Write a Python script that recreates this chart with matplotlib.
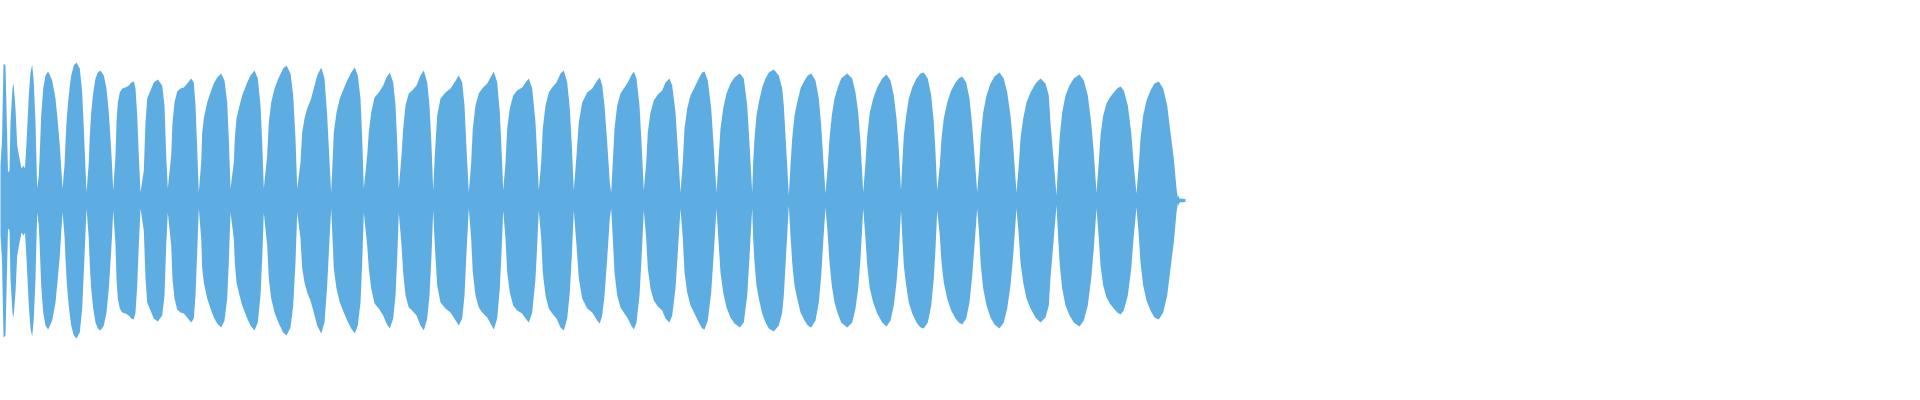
import numpy as np
import matplotlib
matplotlib.use("Agg")
import matplotlib.pyplot as plt

# envelope of the waveform: column position and peak amplitude (symmetric)
pos = [
    0, 1.5, 3, 5, 6.5, 7.5, 9, 10, 12, 13, 15, 16.7, 18.5, 21, 23,
    24.5, 26, 28.3, 30, 31.7, 33.3, 35, 36, 36.7,
    38.3, 39.3, 40.7, 42.7, 45, 47.7, 51.7, 55, 57.3, 59.3, 61, 62,
    64, 65, 66, 67.3, 69, 70.7, 73.3, 76, 79.3, 81.7, 83.3, 85, 86,
    88.3, 89.3, 90.7, 92.7, 95, 97.3, 100, 103.3, 106, 108.3, 110, 111.7, 112.7,
    115, 116, 117.3, 119.3, 121.7, 125, 128.3, 130.7, 133.3, 135, 136.7, 138.3, 140,
    143.3, 145, 146.7, 150, 153.3, 157.3, 161.7, 164, 165.7, 167.3,
    170.7, 172, 174, 176.7, 180, 183.3, 186.7, 190.7, 193.3, 195, 196.7, 198.3,
    200.7, 201.7, 203.3, 206.7, 210, 213.3, 216.7, 220.7, 224, 226.7, 228.3, 230,
    233.3, 234.3, 236, 238.3, 241.7, 246.7, 250, 254, 257.3, 260, 261.7, 263.3,
    266.7, 268.3, 270.7, 274, 278.3, 282.7, 286, 290, 292.7, 295, 296.7,
    300, 301.7, 304, 306.7, 310, 313.3, 316.7, 320.7, 324, 326.7, 328.7, 330.7,
    332.3, 333.3, 336, 339.3, 343.3, 346.7, 350.7, 354.3, 357.3, 360, 361.7, 363.3,
    366.7, 368.3, 370.7, 374, 378.3, 382.7, 386, 389.3, 392.7, 395, 396.7, 398.3,
    401, 402.7, 405, 408.3, 411.7, 416, 420, 423.3, 426.7, 429, 431, 432.7,
    434.3, 436.7, 440, 445, 450, 453.3, 458.3, 461.7, 464, 466, 468.3,
    470.7, 472.3, 475, 478.3, 481.7, 486.7, 490, 493.3, 496.7, 499.3, 501, 502.7,
    505, 506.7, 509.3, 512.7, 516.7, 521.7, 525, 528.3, 531.7, 535, 536.7, 538.3,
    540.7, 542.3, 545, 548.3, 551.7, 556, 560, 563.3, 566.7, 569.3, 571.3, 573.3,
    576, 578.3, 581.7, 586.7, 591.7, 596.7, 599.3, 601.7, 604, 606.7, 609.3, 610.7,
    612.3, 614, 616.7, 620, 623.3, 627.3, 630.7, 633.3, 636, 639, 641, 643.3,
    645.7, 647.3, 650, 653.3, 657.3, 661.7, 665, 669, 671.7, 675, 677.3, 680,
    682.3, 684, 686.7, 690, 694, 698.3, 701.7, 704, 707.3, 710.7, 713.3, 716,
    718.3, 720, 722.7, 726, 730, 734, 739.3, 743.3, 746.7, 748.7, 750, 751.7,
    752.7, 754, 756, 758.3, 761.7, 765, 768.3, 773.3, 778.3, 781.7, 783.3, 785, 786.7, 788.3,
    790, 791.7, 794, 796.7, 800, 804, 807.3, 810.7, 815, 818.3, 820.7, 822.7, 825,
    827.3, 829, 831.3, 834, 837.3, 840.7, 846.7, 851.7, 855, 857.7, 860, 862.7,
    865, 866.7, 869.3, 872.7, 876.7, 881.7, 886, 890, 893.3, 896, 898.3, 900.5,
    901.7, 903.3, 905.7, 908.3, 911.7, 916, 920, 923.3, 927.3, 930.7, 933.3, 935, 936.7,
    939.3, 941, 943.3, 946.7, 950.7, 955, 958.3, 961.7, 965.7, 969, 971.7, 974, 976.7,
    978.7, 980.3, 982.7, 986, 990, 994, 999, 1003.3, 1006.7, 1010, 1012.7, 1016,
    1018.3, 1020, 1022.7, 1026, 1030, 1035, 1040, 1045, 1048.3, 1050, 1052.7, 1056,
    1057.7, 1059.3, 1061.7, 1065, 1069, 1073.3, 1079, 1083.3, 1087.3, 1090.7, 1093.3, 1096,
    1098.3, 1100, 1102.7, 1106, 1109.3, 1113.3, 1116.7, 1120, 1123.3, 1127.3, 1130.7, 1133.3, 1136,
    1138.3, 1140, 1142.7, 1146, 1150, 1154, 1158.3, 1162.7, 1166.7, 1170, 1173.3, 1176, 1177.3,
    1178, 1179, 1185,
]
amp = [
    35, 60, 137, 135, 70, 28, 30, 78, 113, 117, 92, 55, 45, 32, 35,
    32, 58, 105, 128, 136, 118, 78, 38, 12,
    25, 48, 85, 112, 125, 129, 120, 102, 78, 55, 28, 12,
    35, 58, 78, 95, 112, 125, 135, 138, 132, 108, 72, 32, 8,
    38, 65, 88, 108, 122, 128, 130, 125, 112, 88, 62, 32, 10,
    45, 78, 98, 108, 112, 113, 115, 118, 119, 112, 85, 45, 8,
    30, 78, 102, 110, 118, 121, 115, 95, 45, 12,
    45, 78, 98, 109, 112, 113, 117, 122, 118, 95, 52, 8,
    38, 68, 82, 98, 108, 117, 123, 127, 120, 98, 62, 12,
    38, 62, 82, 92, 105, 118, 125, 130, 122, 95, 58, 12,
    45, 78, 98, 112, 123, 132, 135, 127, 105, 62, 12,
    38, 68, 82, 92, 100, 112, 125, 133, 122, 85, 45, 8,
    45, 68, 88, 102, 112, 120, 128, 133, 125, 102, 62, 12,
    45, 68, 88, 103, 108, 115, 123, 128, 118, 95, 58, 12,
    45, 72, 95, 107, 110, 115, 125, 130, 118, 95, 55, 10,
    45, 85, 102, 108, 112, 117, 125, 118, 95, 52, 8,
    38, 72, 95, 107, 112, 117, 123, 129, 118, 88, 52, 10,
    38, 72, 92, 105, 110, 113, 118, 122, 112, 78, 45, 10,
    38, 72, 95, 108, 113, 118, 127, 130, 118, 92, 55, 10,
    45, 78, 98, 108, 112, 120, 123, 115, 95, 58, 18, 8,
    38, 72, 95, 107, 112, 118, 125, 129, 122, 95, 58, 10,
    38, 68, 88, 100, 106, 110, 118, 122, 115, 88, 52, 8,
    38, 72, 92, 105, 113, 122, 128, 129, 120, 92, 52, 8,
    45, 72, 92, 107, 117, 123, 127, 122, 95, 62, 38, 8,
    38, 62, 85, 98, 113, 122, 128, 131, 125, 112, 95, 65, 35, 5,
    35, 62, 85, 98, 112, 120, 125, 127, 120, 102, 75, 42, 7,
    35, 62, 85, 102, 113, 122, 127, 122, 108, 88, 58, 8,
    38, 65, 88, 102, 113, 122, 126, 120, 105, 82, 52, 10,
    35, 65, 85, 102, 113, 122, 127, 128, 122, 105, 78, 48, 10,
    35, 62, 82, 98, 110, 118, 122, 124, 118, 102, 75, 45, 8,
    35, 65, 88, 105, 117, 124, 128, 122, 108, 85, 55, 8,
    35, 62, 82, 98, 108, 117, 122, 117, 105, 77, 45, 5,
    38, 65, 88, 105, 115, 122, 126, 120, 105, 78, 48, 8,
    38, 65, 85, 97, 103, 108, 112, 114, 110, 95, 68, 35, 7,
    35, 62, 85, 100, 110, 117, 119, 112, 95, 68, 42, 12, 3,
    5, 2, 1.5,
]

fig = plt.figure(figsize=(19.2, 4), dpi=100)
ax = fig.add_axes([0, 0, 1, 1])

x = np.array(pos)
a = np.array(amp)
ax.fill_between(x, -a, a, color="#5DADE2", linewidth=0)

ax.set_xlim(0, 1920)
ax.set_ylim(-200, 200)
ax.axis("off")

fig.savefig("out.png", dpi=100)
